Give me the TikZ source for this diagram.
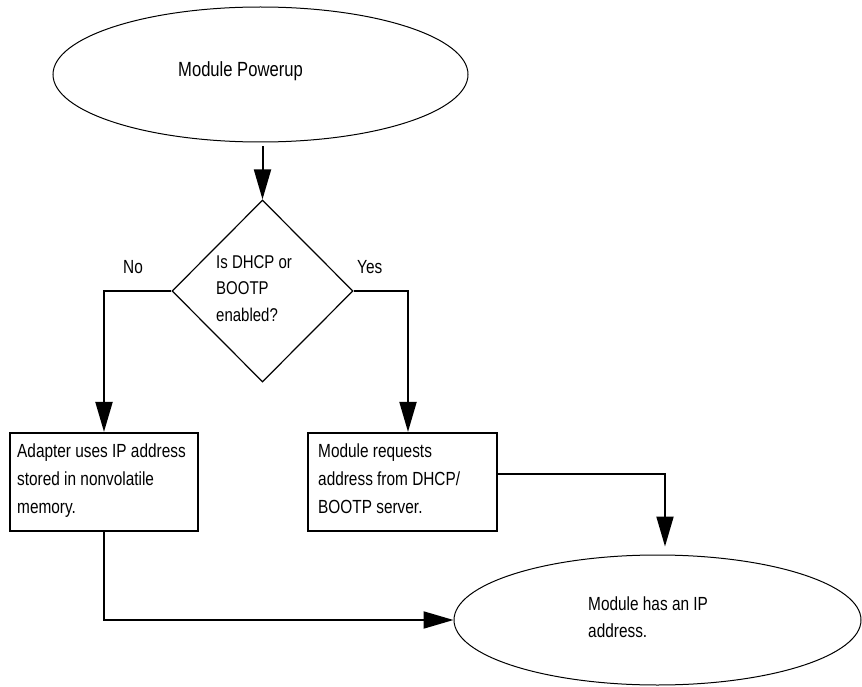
\documentclass[tikz,border=0pt]{standalone}
\usepackage{fontspec}
\setmainfont[FakeStretch=0.81]{Liberation Sans}
\usetikzlibrary{shapes.geometric,arrows.meta,calc}
\begin{document}
\begin{tikzpicture}[x=1pt,y=-1pt,
  conn/.style={line width=2pt,-{Triangle[length=30pt,width=17pt]}},
  oval/.style={draw,ellipse,line width=1pt,inner sep=0pt},
  decide/.style={draw,diamond,line width=1.2pt,inner sep=0pt,minimum width=181pt,minimum height=182pt},
  procbox/.style={draw,rectangle,line width=2.2pt,inner sep=0pt,minimum height=98pt},
  txt/.style={anchor=base west,inner sep=0pt,align=left,font=\fontsize{19}{28}\selectfont},
]
\useasboundingbox (0,0) rectangle (862,687);
\node[oval,minimum width=415pt,minimum height=135pt] (start) at (260.5,74.5) {};
\node[decide] (dec) at (262.5,291) {};
\node[procbox,minimum width=188pt] (left) at (104,482) {};
\node[procbox,minimum width=189pt] (right) at (402.5,482) {};
\node[oval,minimum width=407pt,minimum height=130pt] (end) at (657.5,620) {};

\coordinate (a0) at ($(start.south -| dec.north)+(0,4)$);
\draw[conn] (a0) -- (dec.north);
\draw[conn] (dec.west) -| (left.north);
\draw[conn] (dec.east) -| ($(right.north)+(5.5,0)$);
\draw[conn] ($(right.east)+(0,-8)$) -| ($(end.north)+(7.5,-8)$);
\draw[conn] (left.south) |- (end.west);

% multi-line text nodes: base anchor is the baseline of the last line
\node[txt,font=\fontsize{20.5}{28}\selectfont] (t0) at (178,77) {Module Powerup};
\node[txt,font=\fontsize{18.5}{26.5}\selectfont] (t1) at (216,321) {Is DHCP or\\BOOTP\\enabled?};
\node[txt] (tno) at (123,273) {No};
\node[txt] (tyes) at (357,273) {Yes};
\node[txt] (t2) at (17,513) {Adapter uses IP address\\stored in nonvolatile\\memory.};
\node[txt] (t3) at (318,513) {Module requests\\address from DHCP/\\BOOTP server.};
\node[txt,font=\fontsize{19}{27}\selectfont] (t4) at (588,637) {Module has an IP\\address.};
\end{tikzpicture}
\end{document}
